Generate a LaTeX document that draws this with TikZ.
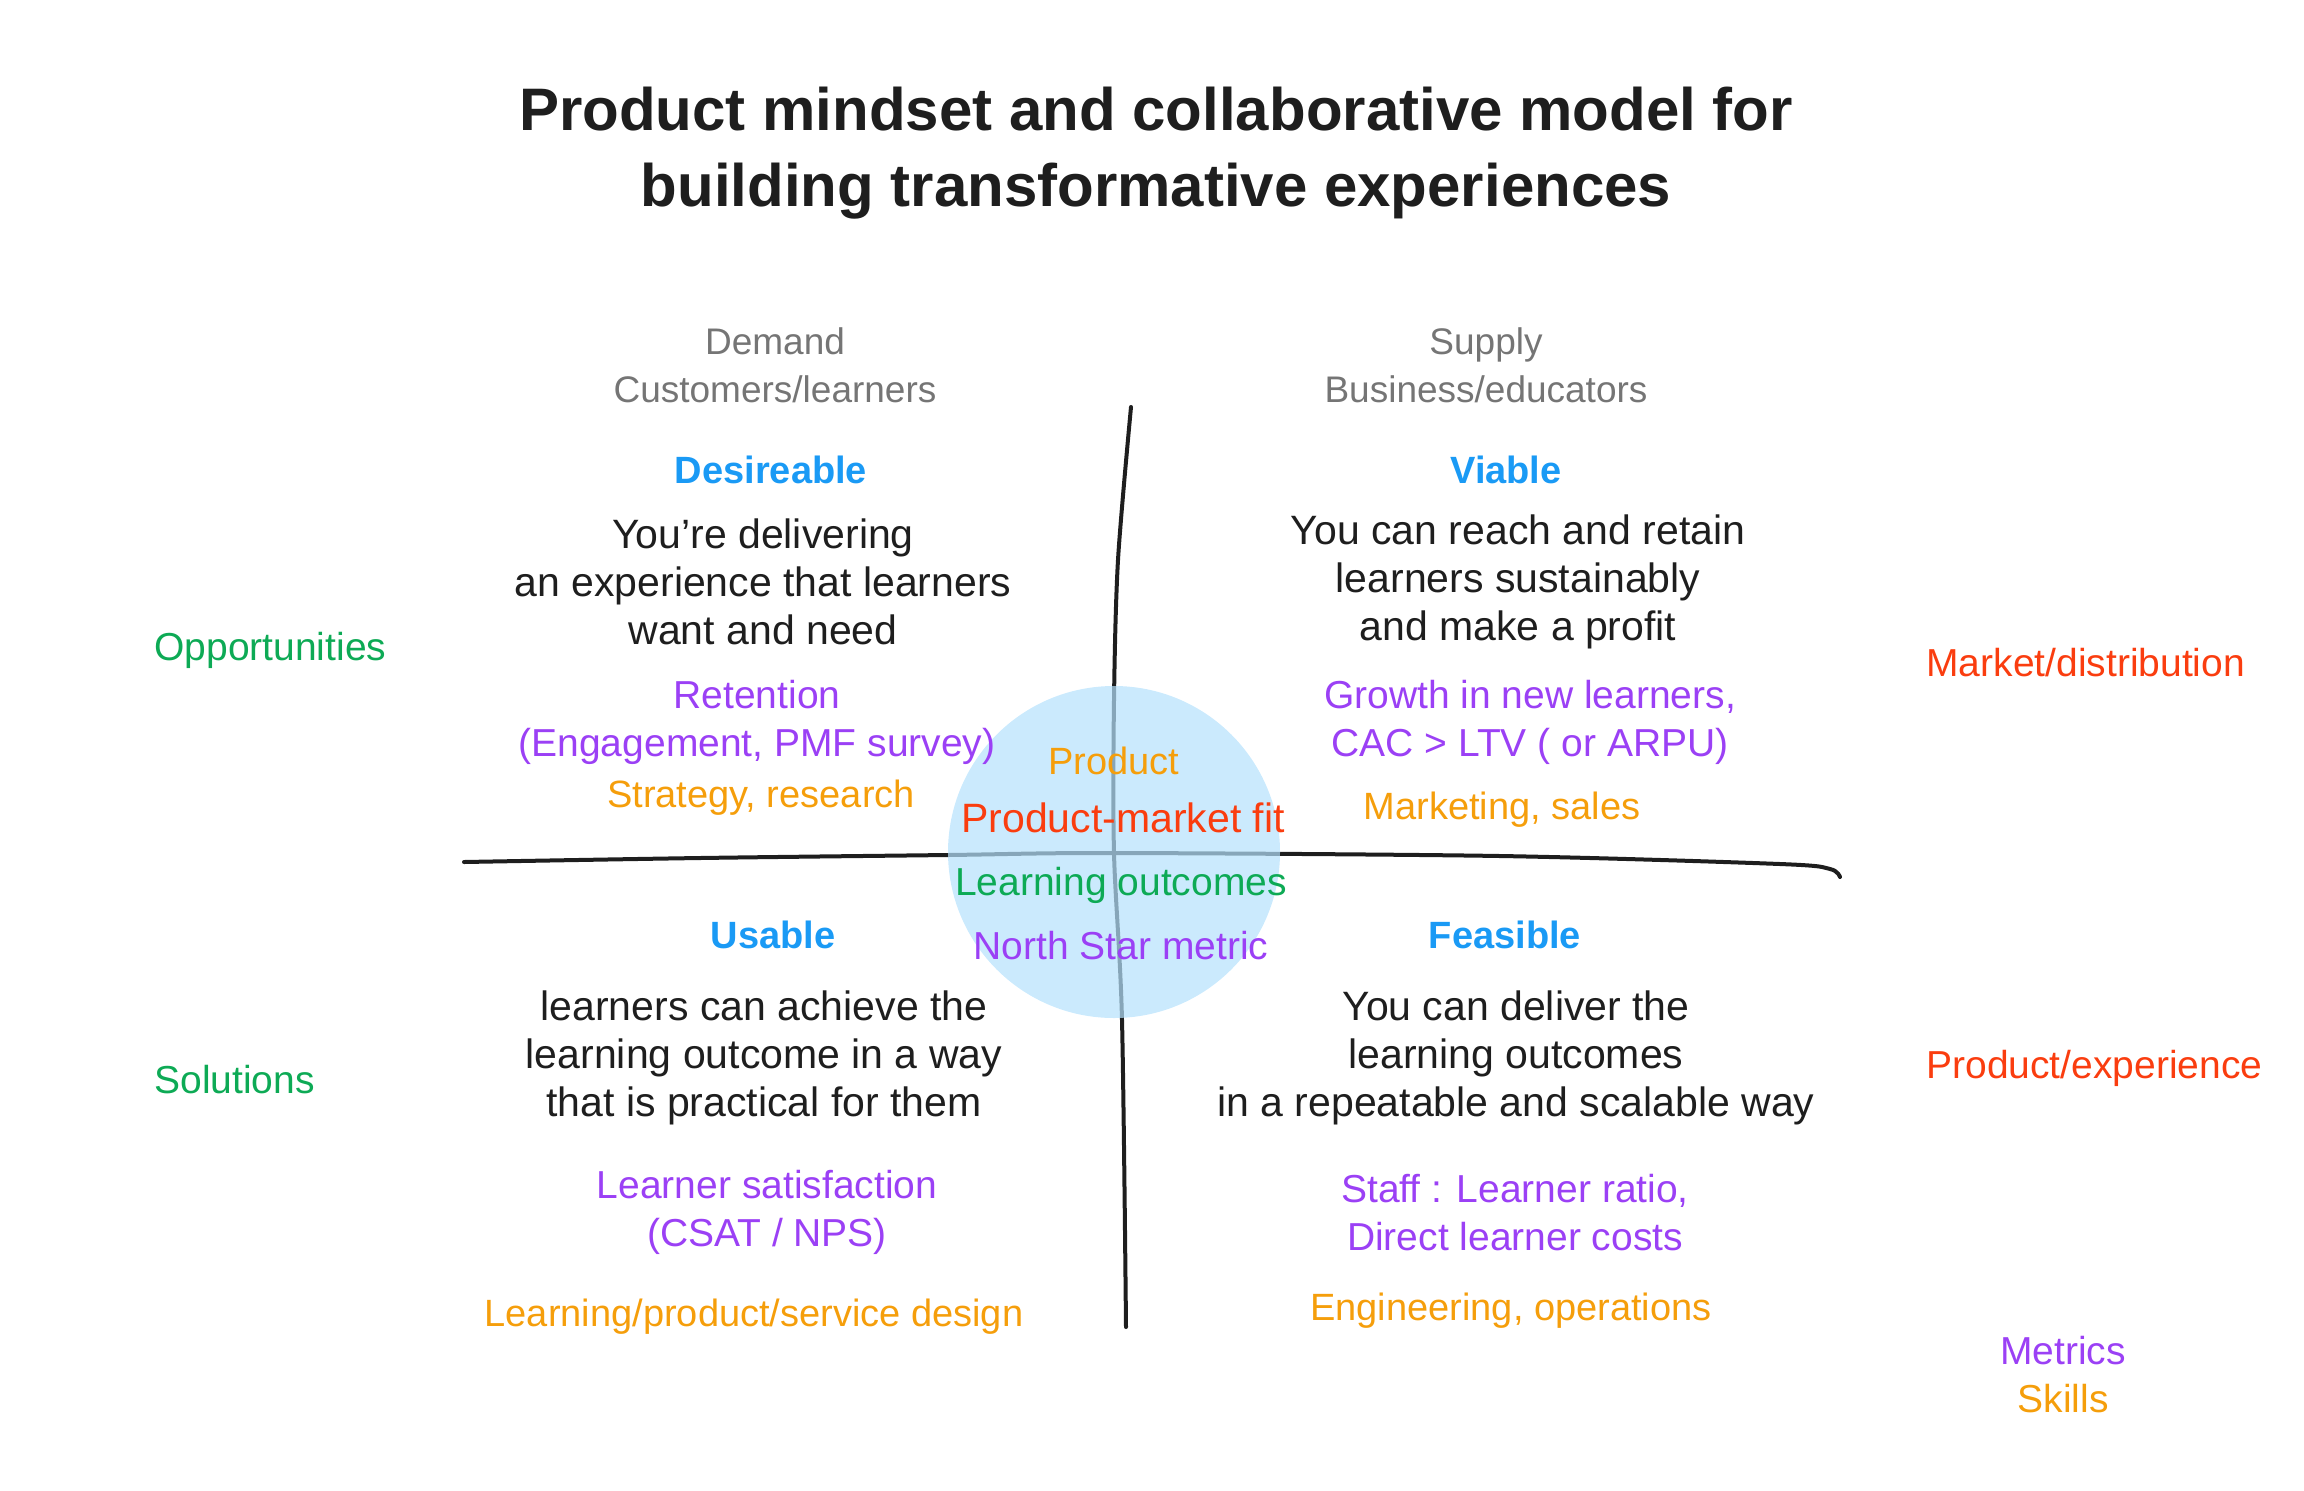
\documentclass[tikz,border=0pt]{standalone}
\usepackage{fontspec}
\setmainfont{Liberation Sans}
\definecolor{ink}{HTML}{1E1E1E}
\definecolor{headblue}{HTML}{1A9AF5}
\definecolor{metricviolet}{HTML}{9B40F5}
\definecolor{skillorange}{HTML}{F59E0B}
\definecolor{outcomegreen}{HTML}{0DAA55}
\definecolor{marketred}{HTML}{FA3D0F}
\definecolor{sidegrey}{HTML}{757575}
\definecolor{corefill}{RGB}{181,225,252}
\tikzset{
  body/.style={align=center, text=ink, font=\fontsize{20.5}{24}\selectfont},
  head/.style={body, text=headblue, font=\fontsize{19}{24}\selectfont\bfseries},
  metric/.style={body, text=metricviolet, font=\fontsize{19.5}{24}\selectfont},
  skill/.style={body, text=skillorange, font=\fontsize{19}{24}\selectfont},
  side/.style={body, text=sidegrey, font=\fontsize{18.5}{24}\selectfont},
  edge/.style={body, font=\fontsize{19.5}{24}\selectfont, anchor=west, inner sep=0pt},
  axis/.style={line width=2pt, draw=ink, line cap=round, line join=round},
}
\begin{document}
\begin{tikzpicture}[x=0.5pt,y=-0.5pt]
\useasboundingbox (0,0) rectangle (2304,1490);
% title
\node[align=center, text=ink, font=\fontsize{30}{38}\selectfont\bfseries] (title) at (1156,153)
  {Product mindset and collaborative model for\\building transformative experiences};
% axes
\draw[axis] plot[smooth] coordinates {(1131,407) (1118,560) (1114,700) (1114,853) (1122,1020) (1126,1327)};
\draw[axis] plot[smooth] coordinates {(464,862) (700,858) (948,855) (1114,853) (1500,856) (1780,864) (1830,869) (1840,877)};
% core circle
\node[circle, fill=corefill, fill opacity=0.7, minimum size=166pt, inner sep=0pt] (core) at (1114,852) {};
% column labels
\node[side] (demand) at (775,365) {Demand\\Customers/learners};
\node[side] (supply) at (1486,365) {Supply\\Business/educators};
% desireable
\node[head] (desire) at (771,470) {Desireable};
\node[body] (desiretxt) at (763,582) {You're delivering\\an experience that learners\\want and need};
\node[metric] (desiremet) at (757,722) {Retention\\(Engagement, PMF survey)};
\node[skill] (desireskill) at (761,798) {Strategy, research};
% viable
\node[head] (viable) at (1506,470) {Viable};
\node[body] (viabletxt) at (1518,582) {You can reach and retain\\learners sustainably\\and make a profit};
\node[metric] (viablemet) at (1530,722) {Growth in new learners,\\CAC > LTV ( or ARPU)};
\node[skill] (viableskill) at (1502,810) {Marketing, sales};
% usable
\node[head] (usable) at (773,935) {Usable};
\node[body] (usabletxt) at (764,1058) {learners can achieve the\\learning outcome in a way\\that is practical for them};
\node[metric] (usablemet) at (767,1212) {Learner satisfaction\\(CSAT / NPS)};
\node[skill] (usableskill) at (754,1317) {Learning/product/service design};
% feasible
\node[head] (feasible) at (1505,935) {Feasible};
\node[body] (feasibletxt) at (1516,1058) {You can deliver the\\learning outcomes\\in a repeatable and scalable way};
\node[metric] (feasiblemet) at (1515,1213) {Staff : Learner ratio,\\Direct learner costs};
\node[skill] (feasibleskill) at (1511,1311) {Engineering, operations};
% centre
\node[skill] (product) at (1114,761) {Product};
\node[body, text=marketred] (pmf) at (1123,818) {Product-market fit};
\node[body, text=outcomegreen, font=\fontsize{19.5}{24}\selectfont] (outcomes) at (1121,885) {Learning outcomes};
\node[metric] (northstar) at (1121,946) {North Star metric};
% sides
\node[edge, text=outcomegreen] (opps) at (154,650) {Opportunities};
\node[edge, text=outcomegreen] (solutions) at (154,1080) {Solutions};
\node[edge, text=marketred] (market) at (1926,663) {Market/distribution};
\node[edge, text=marketred] (experience) at (1926,1068) {Product/experience};
% legend
\node[metric] (legend) at (2063,1375) {Metrics\\\textcolor{skillorange}{Skills}};
\end{tikzpicture}
\end{document}
